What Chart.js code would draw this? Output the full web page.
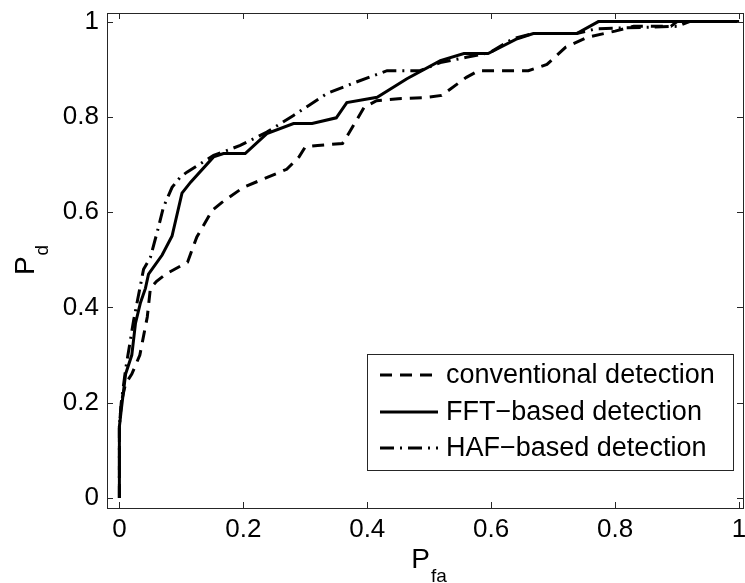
<!DOCTYPE html>
<html>
<head>
<meta charset="utf-8">
<script src="https://cdn.jsdelivr.net/npm/chart.js@4.4.1/dist/chart.umd.min.js"></script>
<style>
  html, body { margin: 0; padding: 0; background: #fff; }
  #wrap { width: 745px; height: 583px; position: relative; }
</style>
</head>
<body>
<div id="wrap"><canvas id="rocChart"></canvas></div>
<script>
// ---- data ----
const xTicks = [0, 0.2, 0.4, 0.6, 0.8, 1];
const yTicks = [0, 0.2, 0.4, 0.6, 0.8, 1];

const seriesNames = ['conventional detection', 'FFT\u2212based detection', 'HAF\u2212based detection'];

const convX = [0, 0, 0.003, 0.01, 0.02, 0.033, 0.045, 0.05, 0.06, 0.075, 0.11, 0.125, 0.15, 0.165, 0.2, 0.27, 0.29, 0.3, 0.32, 0.36, 0.37, 0.395, 0.415, 0.45, 0.49, 0.52, 0.56, 0.58, 0.66, 0.69, 0.72, 0.755, 0.8, 0.83, 0.89, 0.9, 1];
const convY = [0, 0.15, 0.2, 0.24, 0.26, 0.3, 0.38, 0.44, 0.455, 0.47, 0.495, 0.548, 0.604, 0.62, 0.652, 0.69, 0.716, 0.737, 0.74, 0.744, 0.765, 0.82, 0.834, 0.838, 0.84, 0.845, 0.883, 0.897, 0.897, 0.91, 0.946, 0.967, 0.98, 0.99, 0.99, 1, 1];

const fftX = [0, 0, 0.003, 0.01, 0.02, 0.026, 0.034, 0.042, 0.047, 0.069, 0.085, 0.101, 0.115, 0.152, 0.168, 0.203, 0.238, 0.281, 0.311, 0.35, 0.367, 0.416, 0.464, 0.518, 0.556, 0.595, 0.642, 0.668, 0.738, 0.773, 1];
const fftY = [0, 0.15, 0.185, 0.26, 0.3, 0.367, 0.41, 0.44, 0.47, 0.51, 0.55, 0.64, 0.663, 0.716, 0.723, 0.723, 0.765, 0.786, 0.786, 0.798, 0.83, 0.841, 0.88, 0.918, 0.933, 0.933, 0.964, 0.975, 0.975, 1, 1];

const hafX = [0, 0, 0.003, 0.01, 0.023, 0.039, 0.05, 0.063, 0.071, 0.085, 0.098, 0.109, 0.152, 0.195, 0.238, 0.281, 0.335, 0.38, 0.432, 0.485, 0.518, 0.56, 0.598, 0.635, 0.668, 0.738, 0.77, 0.9, 0.92, 1];
const hafY = [0, 0.15, 0.2, 0.27, 0.373, 0.48, 0.505, 0.568, 0.61, 0.652, 0.673, 0.684, 0.719, 0.74, 0.768, 0.803, 0.849, 0.872, 0.897, 0.897, 0.914, 0.925, 0.935, 0.964, 0.975, 0.975, 0.985, 0.99, 1, 1];

const toPoints = (xs, ys) => xs.map((x, i) => ({ x: x, y: ys[i] }));

const FONT = "'Liberation Sans', Arial, Helvetica, sans-serif";
const axisColor = '#262626';

// ---- box, inward ticks, axis titles with subscripts, legend ----
const matlabFrame = {
    id: 'matlabFrame',
    afterDraw(chart) {
        const ctx = chart.ctx;
        const a = chart.chartArea;
        const sx = chart.scales.x, sy = chart.scales.y;
        const tl = 6;

        ctx.save();
        ctx.strokeStyle = axisColor;
        ctx.lineWidth = 1;
        ctx.strokeRect(Math.round(a.left) + 0.5, Math.round(a.top) + 0.5,
                       Math.round(a.right - a.left) - 1, Math.round(a.bottom - a.top));

        ctx.beginPath();
        xTicks.forEach(v => {
            const px = Math.round(sx.getPixelForValue(v)) + 0.5;
            ctx.moveTo(px, a.bottom); ctx.lineTo(px, a.bottom - tl);
            ctx.moveTo(px, a.top);    ctx.lineTo(px, a.top + tl);
        });
        yTicks.forEach(v => {
            const py = Math.round(sy.getPixelForValue(v)) + 0.5;
            ctx.moveTo(a.left, py);  ctx.lineTo(a.left + tl, py);
            ctx.moveTo(a.right - 1, py); ctx.lineTo(a.right - 1 - tl, py);
        });
        ctx.stroke();

        // axis titles P_fa and P_d
        ctx.fillStyle = '#000';
        ctx.textBaseline = 'alphabetic';
        ctx.textAlign = 'left';
        const drawSub = (main, sub, cx, base) => {
            ctx.font = '28px ' + FONT;
            const wm = ctx.measureText(main).width;
            ctx.font = '19px ' + FONT;
            const ws = ctx.measureText(sub).width;
            const x0 = cx - (wm + ws) / 2;
            ctx.font = '28px ' + FONT;
            ctx.fillText(main, x0, base);
            ctx.font = '19px ' + FONT;
            ctx.fillText(sub, x0 + wm + 1, base + 14);
        };
        drawSub('P', 'fa', (a.left + a.right) / 2 + 3, 568);

        ctx.save();
        ctx.translate(34, (a.top + a.bottom) / 2);
        ctx.rotate(-Math.PI / 2);
        drawSub('P', 'd', 0, 0);
        ctx.restore();

        // legend
        const lg = { left: 367, top: 354, right: 733, bottom: 470 };
        ctx.fillStyle = '#fff';
        ctx.fillRect(lg.left, lg.top, lg.right - lg.left, lg.bottom - lg.top);
        ctx.strokeStyle = axisColor;
        ctx.lineWidth = 1;
        ctx.strokeRect(lg.left + 0.5, lg.top + 0.5, lg.right - lg.left, lg.bottom - lg.top);

        const rows = [375, 412, 448];
        chart.data.datasets.forEach((ds, i) => {
            const y = rows[i];
            ctx.strokeStyle = ds.borderColor;
            ctx.lineWidth = ds.borderWidth;
            ctx.setLineDash(ds.borderDash || []);
            ctx.beginPath();
            ctx.moveTo(380, y);
            ctx.lineTo(438, y);
            ctx.stroke();
            ctx.setLineDash([]);
            ctx.fillStyle = '#000';
            ctx.font = '27px ' + FONT;
            ctx.textBaseline = 'middle';
            ctx.fillText(ds.label, 446, y + 1);
        });
        ctx.restore();
    }
};

const lineDataset = (label, pts, dash, order) => ({
    label: label,
    data: pts,
    showLine: true,
    borderColor: '#000',
    backgroundColor: '#000',
    borderWidth: 3,
    borderDash: dash,
    borderCapStyle: 'butt',
    borderJoinStyle: 'miter',
    pointRadius: 0,
    tension: 0,
    order: order
});

const fmt = v => String(Math.round(v * 10) / 10);

new Chart(document.getElementById('rocChart').getContext('2d'), {
    type: 'scatter',
    data: {
        datasets: [
            lineDataset(seriesNames[0], toPoints(convX, convY), [12, 8], 3),
            lineDataset(seriesNames[1], toPoints(fftX, fftY), [], 2),
            lineDataset(seriesNames[2], toPoints(hafX, hafY), [14, 6, 2, 6], 1)
        ]
    },
    options: {
        responsive: true,
        maintainAspectRatio: false,
        animation: false,
        events: [],
        layout: { padding: { top: 13, right: 1, left: 0, bottom: 0 } },
        plugins: {
            legend: { display: false },
            tooltip: { enabled: false }
        },
        scales: {
            x: {
                type: 'linear',
                min: -0.02,
                max: 1.008,
                afterBuildTicks: scale => { scale.ticks = xTicks.map(v => ({ value: v })); },
                afterFit: scale => {
                    scale.height = 75;
                    scale.paddingLeft = 0;
                    scale.paddingRight = 0;
                },
                ticks: {
                    color: '#000',
                    font: { family: FONT, size: 26 },
                    padding: 6,
                    maxRotation: 0,
                    callback: v => fmt(v)
                },
                grid: { display: false, drawTicks: false },
                border: { display: false }
            },
            y: {
                type: 'linear',
                min: -0.021,
                max: 1.018,
                afterBuildTicks: scale => { scale.ticks = yTicks.map(v => ({ value: v })); },
                afterFit: scale => {
                    scale.width = 107;
                    scale.paddingTop = 0;
                    scale.paddingBottom = 0;
                },
                ticks: {
                    color: '#000',
                    font: { family: FONT, size: 26 },
                    padding: 8,
                    callback: v => fmt(v)
                },
                grid: { display: false, drawTicks: false },
                border: { display: false }
            }
        }
    },
    plugins: [matlabFrame]
});
</script>
</body>
</html>
